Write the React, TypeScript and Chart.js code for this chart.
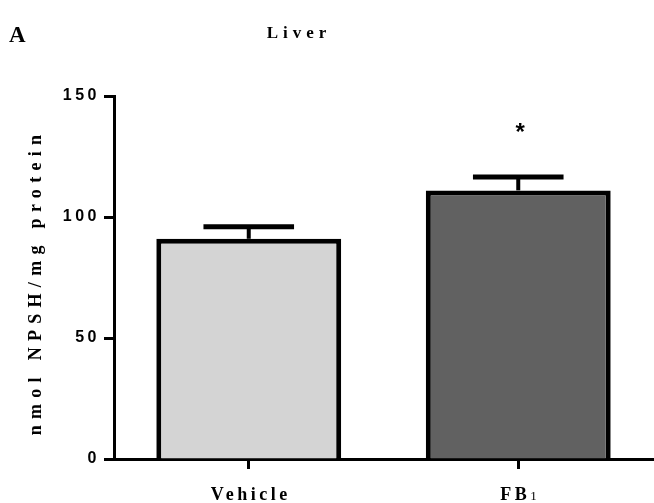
import React, { useEffect, useRef } from "react";
import { Chart, registerables } from "chart.js";

Chart.register(...registerables);

const categories = ["Vehicle", "FB1"];
const labelMain = ["Vehicle", "FB"];
const labelSub = ["", "1"];
const means = [91, 111];
const sems = [5, 5.5];
const significance = ["", "*"];
const yTicks = [0, 50, 100, 150];
const barColors = ["#d4d4d4", "#616161"];
const chartTitle = "Liver";
const panelLetter = "A";
const yTitle = "nmol NPSH/mg protein";

const SERIF = "'Liberation Serif', 'Times New Roman', serif";
const SANS = "'Liberation Sans', Arial, sans-serif";

const decorPlugin = {
  id: "decor",
  beforeDraw(chart: any) {
    const ctx = chart.ctx as any;
    ctx.letterSpacing = "3.5px";
  },
  afterDatasetsDraw(chart: any) {
    const ctx = chart.ctx as any;
    const y = chart.scales.y;
    const meta = chart.getDatasetMeta(0);
    ctx.save();
    ctx.strokeStyle = "#000";
    ctx.lineCap = "butt";
    meta.data.forEach((bar: any, i: number) => {
      const x = bar.x;
      const yBar = y.getPixelForValue(means[i]);
      const yTop = y.getPixelForValue(means[i] + sems[i]);
      const half = bar.width * 0.245;
      ctx.lineWidth = 4;
      ctx.beginPath();
      ctx.moveTo(x, yBar);
      ctx.lineTo(x, yTop);
      ctx.stroke();
      ctx.lineWidth = 5;
      ctx.beginPath();
      ctx.moveTo(x - half, yTop);
      ctx.lineTo(x + half, yTop);
      ctx.stroke();
      if (significance[i]) {
        ctx.letterSpacing = "0px";
        ctx.fillStyle = "#000";
        ctx.font = `bold 24px ${SANS}`;
        ctx.textAlign = "center";
        ctx.textBaseline = "middle";
        ctx.fillText(significance[i], x + 2, yTop - 44);
      }
    });
    ctx.restore();
  },
  afterDraw(chart: any) {
    const ctx = chart.ctx as any;
    const x = chart.scales.x;
    const area = chart.chartArea;
    ctx.save();
    ctx.fillStyle = "#000";
    // panel letter
    ctx.letterSpacing = "0px";
    ctx.font = `bold 23px ${SERIF}`;
    ctx.textAlign = "left";
    ctx.textBaseline = "alphabetic";
    ctx.fillText(panelLetter, 9, 42);
    // title
    ctx.letterSpacing = "5px";
    ctx.font = `bold 17px ${SERIF}`;
    ctx.textAlign = "center";
    ctx.fillText(chartTitle, 299, 38);
    // y title
    ctx.save();
    ctx.translate(41, 279 + 3);
    ctx.rotate(-Math.PI / 2);
    ctx.letterSpacing = "6.3px";
    ctx.font = `bold 18px ${SERIF}`;
    ctx.textAlign = "center";
    ctx.textBaseline = "alphabetic";
    ctx.fillText(yTitle, 0, 0);
    ctx.restore();
    // x labels
    categories.forEach((_c, i) => {
      const cx = x.getPixelForValue(i);
      ctx.letterSpacing = "3.5px";
      ctx.font = `bold 18px ${SERIF}`;
      const mainW = ctx.measureText(labelMain[i]).width;
      let subW = 0;
      if (labelSub[i]) {
        ctx.font = `13px ${SERIF}`;
        subW = ctx.measureText(labelSub[i]).width;
      }
      const start = cx - (mainW + subW) / 2 + 2;
      ctx.textAlign = "left";
      ctx.font = `bold 18px ${SERIF}`;
      ctx.fillText(labelMain[i], start, 500);
      if (labelSub[i]) {
        ctx.font = `13px ${SERIF}`;
        ctx.fillText(labelSub[i], start + mainW, 500);
      }
    });
    ctx.restore();
    ctx.letterSpacing = "0px";
  },
};

export default function App() {
  const ref = useRef<HTMLCanvasElement | null>(null);
  useEffect(() => {
    if (!ref.current) return;
    const chart = new Chart(ref.current, {
      type: "bar",
      data: {
        labels: categories,
        datasets: [
          {
            data: means,
            backgroundColor: barColors,
            borderColor: "#000",
            borderWidth: 5,
            borderSkipped: "bottom",
            barPercentage: 0.686,
            categoryPercentage: 1,
          },
        ],
      },
      options: {
        responsive: false,
        animation: false,
        devicePixelRatio: 1,
        layout: { padding: { top: 96, right: 1, left: 0, bottom: 0 } },
        plugins: {
          legend: { display: false },
          tooltip: { enabled: false },
          title: { display: false },
        },
        scales: {
          x: {
            offset: true,
            grid: {
              display: true,
              drawOnChartArea: false,
              drawTicks: true,
              tickLength: 10,
              tickWidth: 3,
              tickColor: "#000",
              offset: false,
            },
            border: { display: true, color: "#000", width: 3 },
            ticks: { color: "rgba(0,0,0,0)", font: { size: 12 } },
            afterFit(scale: any) {
              scale.height = 44;
            },
          },
          y: {
            min: 0,
            max: 150,
            grid: {
              display: true,
              drawOnChartArea: false,
              drawTicks: true,
              tickLength: 10,
              tickWidth: 3,
              tickColor: "#000",
            },
            border: { display: true, color: "#000", width: 3 },
            ticks: {
              color: "#000",
              padding: 4,
              font: { family: SANS, size: 16, weight: "bold" },
            },
            afterBuildTicks(scale: any) {
              scale.ticks = yTicks.map((v) => ({ value: v }));
            },
            afterFit(scale: any) {
              scale.width = 114;
            },
          },
        },
      },
      plugins: [decorPlugin],
    });
    return () => chart.destroy();
  }, []);
  return (
    <div style={{ position: "absolute", left: 0, top: 0, width: 654, height: 503, background: "#fff" }}>
      <canvas ref={ref} width={654} height={503} style={{ width: 654, height: 503, display: "block" }} />
    </div>
  );
}
